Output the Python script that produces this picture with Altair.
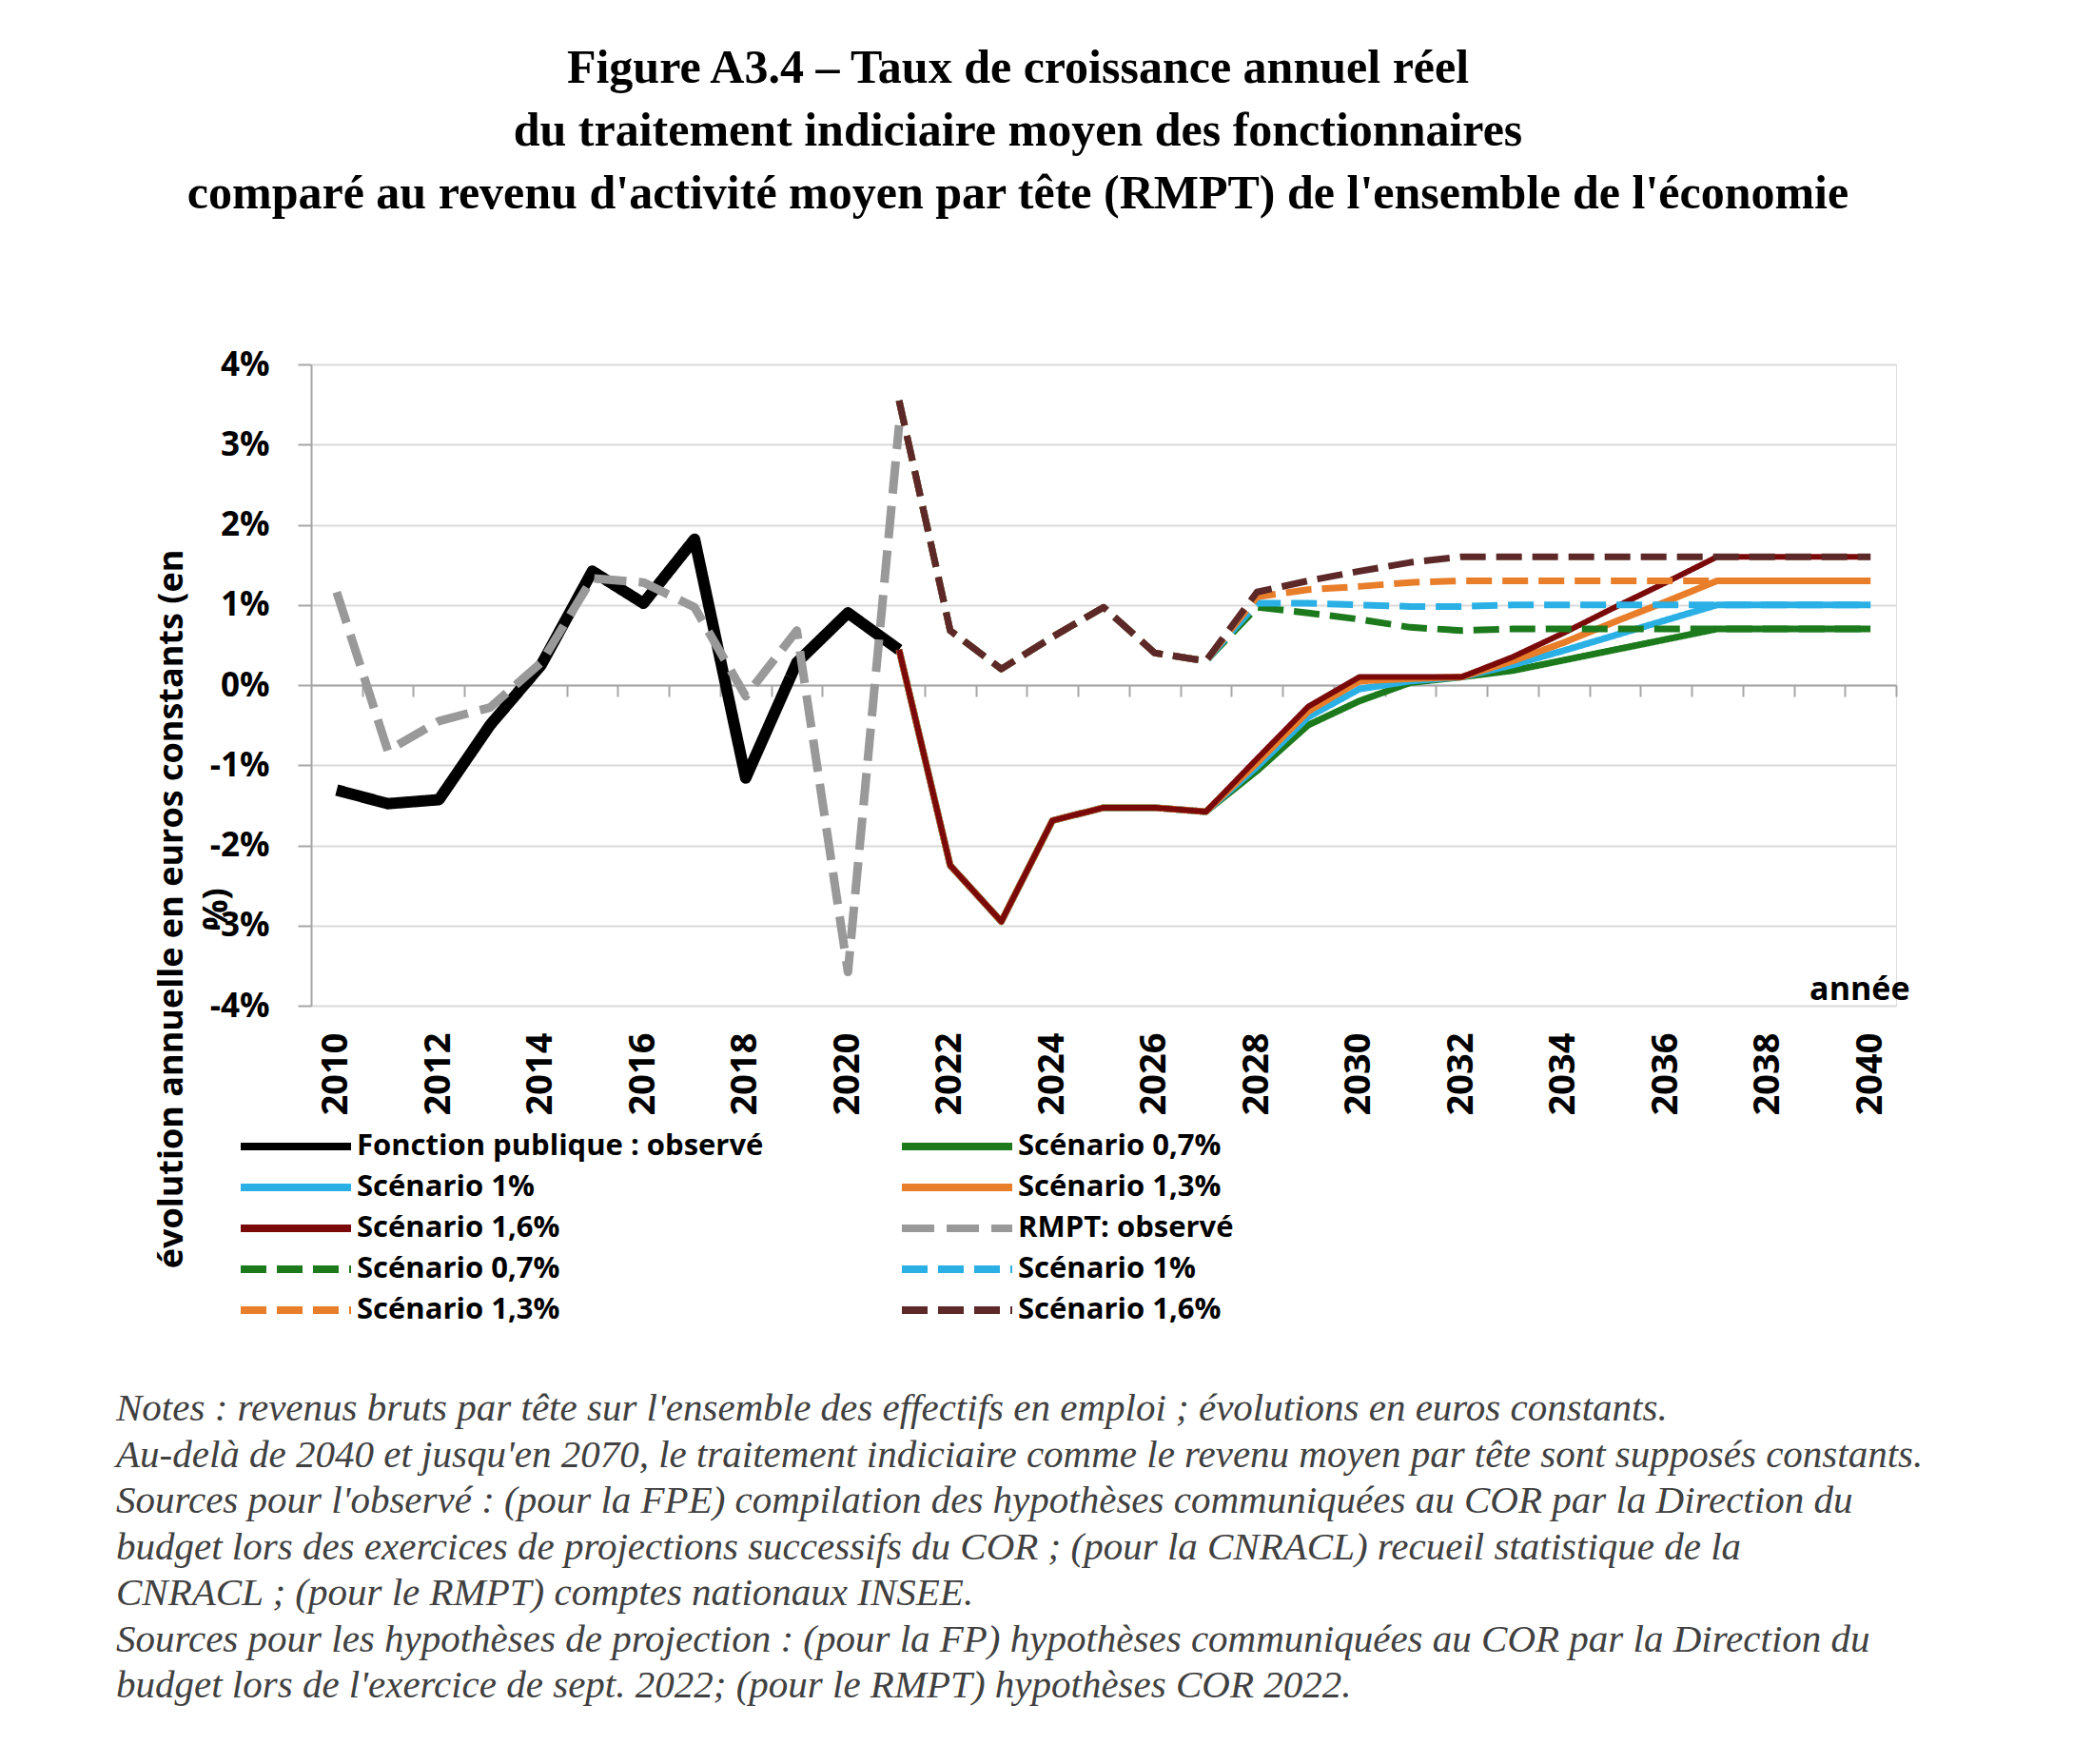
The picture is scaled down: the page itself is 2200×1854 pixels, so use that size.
import altair as alt
import pandas as pd

# ---------------- data ----------------
FP_YEARS = list(range(2010, 2022))
FP_OBS = [-1.31, -1.48, -1.43, -0.50, 0.25, 1.42, 1.02, 1.82, -1.16, 0.28, 0.90, 0.44]
RMPT_OBS = [1.16, -0.82, -0.45, -0.28, 0.28, 1.33, 1.28, 0.97, -0.14, 0.68, -3.58, 3.24]

PROJ_YEARS = list(range(2021, 2041))
# traitement indiciaire (solid)
S07 = [0.44, -2.25, -2.95, -1.69, -1.53, -1.53, -1.58, -1.07, -0.50, -0.20, 0.03, 0.10,
       0.18, 0.31, 0.44, 0.57, 0.70, 0.70, 0.70, 0.70]
S10 = [0.44, -2.25, -2.95, -1.69, -1.53, -1.53, -1.58, -1.02, -0.40, -0.05, 0.05, 0.10,
       0.25, 0.43, 0.62, 0.81, 1.00, 1.00, 1.00, 1.00]
S13 = [0.44, -2.25, -2.95, -1.69, -1.53, -1.53, -1.58, -0.97, -0.33, 0.05, 0.08, 0.10,
       0.30, 0.53, 0.79, 1.04, 1.30, 1.30, 1.30, 1.30]
S16 = [0.44, -2.25, -2.95, -1.69, -1.53, -1.53, -1.58, -0.92, -0.27, 0.10, 0.10, 0.10,
       0.35, 0.65, 0.97, 1.28, 1.60, 1.60, 1.60, 1.60]
# RMPT (dashed)
R07 = [3.55, 0.68, 0.20, 0.60, 0.97, 0.40, 0.30, 0.97, 0.90, 0.82, 0.72, 0.68,
       0.70, 0.70, 0.70, 0.70, 0.70, 0.70, 0.70, 0.70]
R10 = [3.55, 0.68, 0.20, 0.60, 0.97, 0.40, 0.30, 1.02, 1.02, 1.00, 0.98, 0.98,
       1.00, 1.00, 1.00, 1.00, 1.00, 1.00, 1.00, 1.00]
R13 = [3.55, 0.68, 0.20, 0.60, 0.97, 0.40, 0.30, 1.10, 1.19, 1.23, 1.28, 1.30,
       1.30, 1.30, 1.30, 1.30, 1.30, 1.30, 1.30, 1.30]
R16 = [3.55, 0.68, 0.20, 0.60, 0.97, 0.40, 0.30, 1.16, 1.30, 1.42, 1.53, 1.60,
       1.60, 1.60, 1.60, 1.60, 1.60, 1.60, 1.60, 1.60]

YEARS = list(range(2010, 2041))
Y_TICKS = [-4, -3, -2, -1, 0, 1, 2, 3, 4]

SERIES = [
    "Fonction publique : observé",
    "Scénario 0,7%",
    "Scénario 1%",
    "Scénario 1,3%",
    "Scénario 1,6%",
    "RMPT: observé",
    "Scénario 0,7% (RMPT)",
    "Scénario 1% (RMPT)",
    "Scénario 1,3% (RMPT)",
    "Scénario 1,6% (RMPT)",
]
SERIES_DATA = [
    (FP_YEARS, FP_OBS), (PROJ_YEARS, S07), (PROJ_YEARS, S10), (PROJ_YEARS, S13),
    (PROJ_YEARS, S16), (FP_YEARS, RMPT_OBS), (PROJ_YEARS, R07), (PROJ_YEARS, R10),
    (PROJ_YEARS, R13), (PROJ_YEARS, R16),
]
COLORS = ["#000000", "#1c7a1c", "#2ab0e4", "#e87d2a", "#7a0a0a",
          "#999999", "#1c7a1c", "#2ab0e4", "#e87d2a", "#5c2828"]
DASHES = [[1, 0], [1, 0], [1, 0], [1, 0], [1, 0],
          [34, 13], [27, 11], [27, 11], [27, 11], [27, 11]]
WIDTHS = [12, 7, 7, 7, 6, 9, 7, 7, 7, 7]

TITLE = [
    "Figure A3.4 –  Taux de croissance annuel réel",
    "du traitement indiciaire moyen des fonctionnaires",
    "comparé au revenu d'activité moyen par tête (RMPT) de l'ensemble de l'économie",
]
Y_TITLE = ["évolution annuelle en euros constants (en", "%)"]
X_TITLE = "année"
NOTES = [
    "Notes : revenus bruts par tête sur l'ensemble des effectifs en emploi ; évolutions en euros constants.",
    "Au-delà de 2040 et jusqu'en 2070, le traitement indiciaire comme le revenu moyen par tête sont supposés constants.",
    "Sources pour l'observé : (pour la FPE) compilation des hypothèses communiquées au COR par la Direction du",
    "budget lors des exercices de projections successifs du COR ; (pour la CNRACL) recueil statistique de la",
    "CNRACL ; (pour le RMPT) comptes nationaux INSEE.",
    "Sources pour les hypothèses de projection : (pour la FP) hypothèses communiquées au COR par la Direction du",
    "budget lors de l'exercice de sept. 2022; (pour le RMPT) hypothèses COR 2022.",
]

# ---------------- chart ----------------
W, H = 1666, 674
band = W / len(YEARS)
SANS = "Open Sans"
GREY = "#a6a6a6"

x_axis = alt.Axis(
    values=YEARS,
    labelExpr="datum.value % 2 === 0 ? '' + datum.value : ''",
    labelAngle=270, labelFont=SANS, labelFontWeight="bold", labelFontSize=38,
    labelColor="black", labelPadding=353, labelOverlap=False, labelBound=False,
    labelFlush=False, labelOffset=-band / 2,
    offset=-H / 2, tickOffset=band / 2, tickSize=12, tickColor=GREY, tickWidth=2,
    domainColor=GREY, domainWidth=2, grid=False,
    title=X_TITLE, titleFont=SANS, titleFontWeight="bold", titleFontSize=34,
    titleColor="black", titleX=1680, titleY=330, titleAlign="right",
    titleAngle=0, titleBaseline="alphabetic",
)
y_axis = alt.Axis(
    values=Y_TICKS, labelExpr="datum.value + '%'",
    labelFont=SANS, labelFontWeight="bold", labelFontSize=35, labelColor="black",
    labelPadding=30, tickSize=14, tickColor=GREY, tickWidth=2,
    domainColor=GREY, domainWidth=2, gridColor="#d9d9d9", gridWidth=2,
    title=Y_TITLE, titleFont=SANS, titleFontWeight="bold", titleFontSize=36,
    titleColor="black", titleX=-147, titleY=572, titleAngle=270,
    titleBaseline="middle", titleAlign="center", titleLineHeight=47,
)
legend = alt.Legend(
    title=None, orient="none", legendX=-78, legendY=804, columns=2,
    direction="horizontal",
    symbolType="stroke", symbolSize=116 * 116, symbolStrokeWidth=8, clipHeight=36,
    labelFont=SANS, labelFontWeight="bold", labelFontSize=31, labelColor="black",
    labelOffset=2, rowPadding=7, columnPadding=141, padding=0, labelLimit=0,
    labelExpr="replace(datum.label, ' (RMPT)', '')",
)
x_scale = alt.Scale(domain=[2009.5, 2040.5], nice=False, zero=False)
y_scale = alt.Scale(domain=[-4, 4], nice=False)
color_scale = alt.Scale(domain=SERIES, range=COLORS)
dash_scale = alt.Scale(domain=SERIES, range=DASHES)

layers = []
for name, (yrs, vals), w in zip(SERIES, SERIES_DATA, WIDTHS):
    df = pd.DataFrame({"year": yrs, "value": vals, "series": name})
    layers.append(
        alt.Chart(df).mark_line(strokeWidth=w, strokeJoin="round").encode(
            x=alt.X("year:Q", scale=x_scale, axis=x_axis),
            y=alt.Y("value:Q", scale=y_scale, axis=y_axis),
            color=alt.Color("series:N", scale=color_scale, legend=legend),
            strokeDash=alt.StrokeDash("series:N", scale=dash_scale, legend=legend),
        )
    )

notes = alt.Chart(alt.InlineData(values=[{"k": 1}])).mark_text(
    text=NOTES, font="Liberation Serif", fontStyle="italic", fontSize=41,
    color="#404040", align="left", baseline="alphabetic", lineHeight=48.5,
).encode(x=alt.value(122 - 327), y=alt.value(1110))
layers.append(notes)

chart = alt.layer(*layers).properties(
    width=W, height=H,
    title=alt.Title(
        text=TITLE, font="Liberation Serif", fontSize=50, fontWeight="bold",
        color="black", lineHeight=66, anchor="middle", frame="group", dx=-90,
        offset=137,
    ),
    autosize=alt.AutoSizeParams(type="none"),
    padding={"left": 319, "top": 375, "right": 190, "bottom": 780},
).configure_view(stroke=None).configure(background="white")

chart.save("out.html", embed_options={"renderer": "svg", "actions": False})
